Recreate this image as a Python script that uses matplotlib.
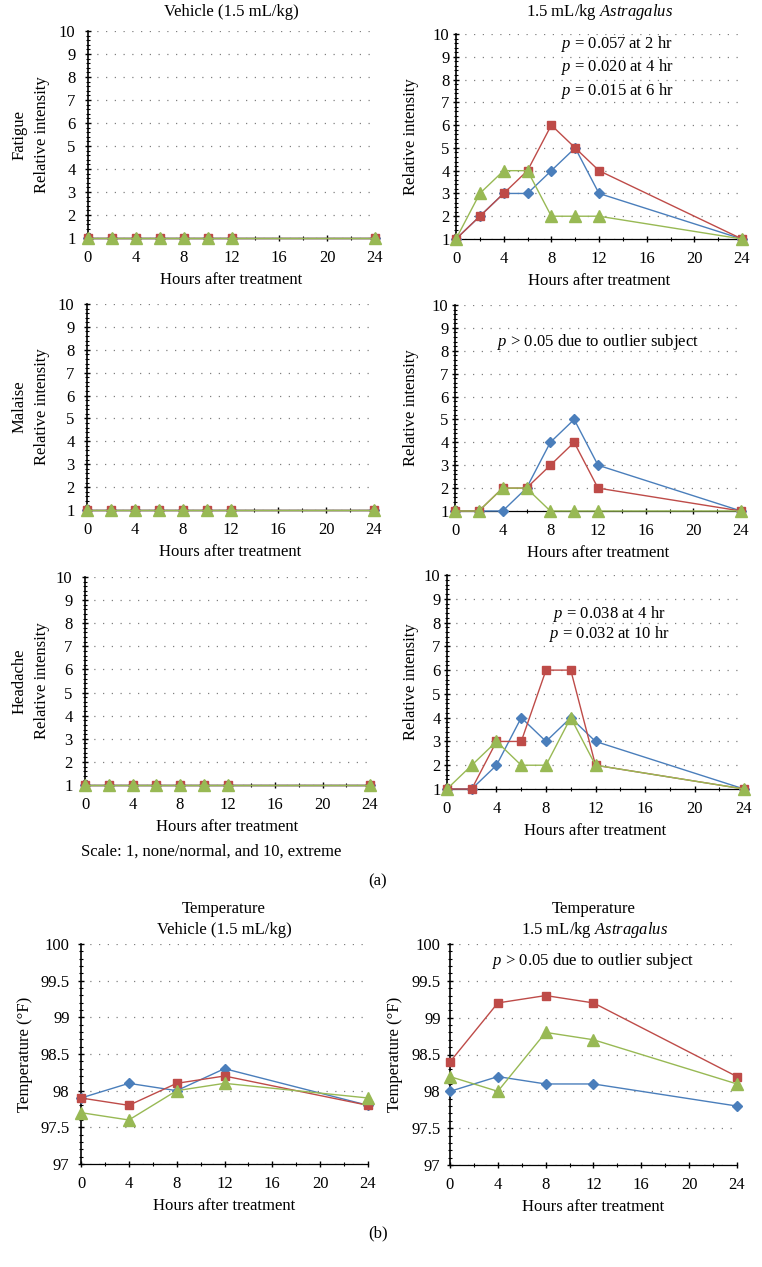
import numpy as np
import matplotlib
matplotlib.use("Agg")
import matplotlib.pyplot as plt
from matplotlib.ticker import MultipleLocator, FormatStrFormatter

plt.rcParams['font.family'] = ['Liberation Serif', 'DejaVu Serif']
plt.rcParams['mathtext.fontset'] = 'custom'
plt.rcParams['mathtext.rm'] = 'Liberation Serif'
plt.rcParams['mathtext.it'] = 'Liberation Serif:italic'
plt.rcParams['font.size'] = 12

# symptom scores (1 = none/normal, 10 = extreme)
hours_vehicle = [0, 2, 4, 6, 8, 10, 12, 24]
hours_astr = [0, 2, 4, 6, 8, 10, 12, 24]
vehicle_ones = [1, 1, 1, 1, 1, 1, 1, 1]

fatigue_blue = [1, 2, 3, 3, 4, 5, 3, 1]
fatigue_red = [1, 2, 3, 4, 6, 5, 4, 1]
fatigue_green = [1, 3, 4, 4, 2, 2, 2, 1]

malaise_blue = [1, 1, 1, 2, 4, 5, 3, 1]
malaise_red = [1, 1, 2, 2, 3, 4, 2, 1]
malaise_green = [1, 1, 2, 2, 1, 1, 1, 1]

headache_blue = [1, 1, 2, 4, 3, 4, 3, 1]
headache_red = [1, 1, 3, 3, 6, 6, 2, 1]
headache_green = [1, 2, 3, 2, 2, 4, 2, 1]

# temperature (F)
hours_temp = [0, 4, 8, 12, 24]
tv_blue = [97.9, 98.1, 98.0, 98.3, 97.8]
tv_red = [97.9, 97.8, 98.1, 98.2, 97.8]
tv_green = [97.7, 97.6, 98.0, 98.1, 97.9]
ta_blue = [98.0, 98.2, 98.1, 98.1, 97.8]
ta_red = [98.4, 99.2, 99.3, 99.2, 98.2]
ta_green = [98.2, 98.0, 98.8, 98.7, 98.1]

BLUE = '#4a7ebb'
RED = '#be4b48'
GREEN = '#98b954'

W, H = 762, 1267
fig = plt.figure(figsize=(W / 100, H / 100), dpi=100)
PT = 72 / 100  # points per pixel


def add_ax(x0, x1, ytop, ybot):
    return fig.add_axes([x0 / W, 1 - ybot / H, (x1 - x0) / W, (ybot - ytop) / H])


def ftext(x, y, s, **kw):
    fig.text(x / W, 1 - y / H, s, ha='center', va='center', **kw)


def style(ax, box, ylim, ymaj, ymin, ylabel, ylab_x, ypad, fmt=None):
    x0, x1, ytop, ybot = box
    ax.set_xlim(0, 24)
    ax.set_ylim(*ylim)
    ax.xaxis.set_major_locator(MultipleLocator(4))
    ax.xaxis.set_minor_locator(MultipleLocator(2))
    ax.yaxis.set_major_locator(MultipleLocator(ymaj))
    ax.yaxis.set_minor_locator(MultipleLocator(ymin))
    if fmt:
        ax.yaxis.set_major_formatter(fmt)
    for s in ['top', 'right']:
        ax.spines[s].set_visible(False)
    ax.spines['left'].set_linewidth(1.2)
    ax.spines['bottom'].set_linewidth(0.9)
    ax.tick_params(which='major', direction='inout', length=5, width=1)
    ax.tick_params(which='minor', direction='inout', length=3, width=0.8)
    ax.tick_params(axis='y', which='major', pad=ypad * PT)
    ax.tick_params(axis='x', which='major', pad=6)
    ax.grid(axis='y', which='major', linestyle=(0, (1, 6)), color='#808080', linewidth=0.9)
    ax.set_axisbelow(True)
    ax.set_xlabel('Hours after treatment', va='center')
    ax.xaxis.set_label_coords(0.5, -42 / (ybot - ytop))
    ax.set_ylabel(ylabel, va='center', ha='center', linespacing=1.5)
    ax.yaxis.set_label_coords((ylab_x - x0) / (x1 - x0), 0.5)


def draw(ax, x, b, r, g):
    kw = dict(linewidth=1.0, clip_on=False, zorder=3)
    ax.plot(x, b, color=BLUE, marker='D', markersize=5, **kw)
    ax.plot(x, r, color=RED, marker='s', markersize=5.5, **kw)
    ax.plot(x, g, color=GREEN, marker='^', markersize=8, **kw)


symptoms = [
    ('Fatigue', (88, 375, 31, 238), (456, 742, 34, 239),
     fatigue_blue, fatigue_red, fatigue_green),
    ('Malaise', (87, 374, 304, 510), (455, 741, 305, 511),
     malaise_blue, malaise_red, malaise_green),
    ('Headache', (85, 370, 577, 785), (447, 744, 575, 789),
     headache_blue, headache_red, headache_green),
]

right_axes = []
for name, lbox, rbox, b, r, g in symptoms:
    axl = add_ax(*lbox)
    draw(axl, hours_vehicle, vehicle_ones, vehicle_ones, vehicle_ones)
    style(axl, lbox, (1, 10), 1, 0.2, name + '\nRelative intensity', 31, 9)
    axr = add_ax(*rbox)
    draw(axr, hours_astr, b, r, g)
    style(axr, rbox, (1, 10), 1, 0.2, 'Relative intensity', 411, 3)
    right_axes.append(axr)

right_axes[0].text(13.5, 8.55, '$p$ = 0.057 at 2 hr\n$p$ = 0.020 at 4 hr\n$p$ = 0.015 at 6 hr',
                   ha='center', va='center', linespacing=1.25)
right_axes[1].text(12.0, 8.38, '$p$ > 0.05 due to outlier subject', ha='center', va='center')
right_axes[2].text(13.1, 7.92, '$p$ = 0.038 at 4 hr\n$p$ = 0.032 at 10 hr',
                   ha='center', va='center', linespacing=1.0)

ftext(231, 12, 'Vehicle (1.5 mL/kg)')
ftext(599, 12, '1.5 mL/kg $\\mathit{Astragalus}$')
ftext(211, 852, 'Scale: 1, none/normal, and 10, extreme')
ftext(378, 881, '(a)')

# temperature panels
tfmt = FormatStrFormatter('%g')
boxl = (81, 368, 944, 1164)
boxr = (450, 737, 944, 1165)
axtl = add_ax(*boxl)
draw(axtl, hours_temp, tv_blue, tv_red, tv_green)
style(axtl, boxl, (97, 100), 0.5, 0.1, 'Temperature (°F)', 25, 8, tfmt)
axtr = add_ax(*boxr)
draw(axtr, hours_temp, ta_blue, ta_red, ta_green)
style(axtr, boxr, (97, 100), 0.5, 0.1, 'Temperature (°F)', 395, 6, tfmt)
axtr.text(12.0, 99.77, '$p$ > 0.05 due to outlier subject', ha='center', va='center')

ftext(224, 909, 'Temperature')
ftext(224, 930, 'Vehicle (1.5 mL/kg)')
ftext(594, 909, 'Temperature')
ftext(594, 930, '1.5 mL/kg $\\mathit{Astragalus}$')
ftext(378, 1233, '(b)')

fig.savefig('out.png', dpi=100)
